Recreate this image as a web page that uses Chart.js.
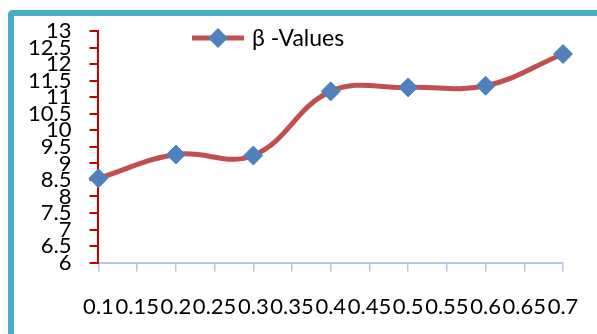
<!DOCTYPE html>
<html>
<head>
<meta charset="utf-8">
<script src="https://cdn.jsdelivr.net/npm/chart.js@4.4.0/dist/chart.umd.min.js"></script>
<style>
  html, body { margin: 0; padding: 0; background: #fff; }
  #wrap { position: relative; width: 597px; height: 334px; overflow: hidden; }
  #frame {
    position: absolute; left: 8px; top: 10px; width: 620px; height: 360px;
    border-left: 6px solid #4bacc6; border-top: 6px solid #4bacc6;
    border-top-left-radius: 5px;
  }
  canvas { position: absolute; left: 0; top: 0; }
</style>
</head>
<body>
<div id="wrap">
  <div id="frame"></div>
  <canvas id="betaChart" width="597" height="334"></canvas>
</div>
<script>
// x categories (every 0.05), measured values only at every 0.1
const xLabels = ['0.1', '0.15', '0.2', '0.25', '0.3', '0.35', '0.4', '0.45', '0.5', '0.55', '0.6', '0.65', '0.7'];
const betaValues = [8.55, null, 9.27, null, 9.24, null, 11.18, null, 11.30, null, 11.35, null, 12.31];
const yRange = [6, 13];
const yStep = 0.5;

const lineRed = '#c0504d';
const markerBlue = '#4f81bd';
const axisRed = '#cc0000';
const axisBlue = '#b4c8e6';
const fontFamily = 'Lato, "Noto Sans", sans-serif';
const tickFont = { family: fontFamily, size: 22 };

// legend sits inside the plot, like the spreadsheet original
const insideLegend = {
  id: 'insideLegend',
  afterDraw(chart) {
    const ctx = chart.ctx;
    const ds = chart.data.datasets[0];
    const y = 38;
    ctx.save();
    ctx.strokeStyle = lineRed;
    ctx.lineWidth = 5;
    ctx.beginPath();
    ctx.moveTo(192, y);
    ctx.lineTo(244, y);
    ctx.stroke();
    ctx.fillStyle = markerBlue;
    ctx.beginPath();
    ctx.moveTo(218 - 10, y);
    ctx.lineTo(218, y - 10);
    ctx.lineTo(218 + 10, y);
    ctx.lineTo(218, y + 10);
    ctx.closePath();
    ctx.fill();
    ctx.fillStyle = '#000';
    ctx.font = '23px ' + fontFamily;
    ctx.textBaseline = 'middle';
    ctx.fillText(ds.label, 252, y + 1);
    ctx.restore();
  }
};

new Chart(document.getElementById('betaChart').getContext('2d'), {
  type: 'line',
  data: {
    labels: xLabels,
    datasets: [{
      label: 'β -Values',
      data: betaValues,
      borderColor: lineRed,
      borderWidth: 5,
      tension: 0.4,
      spanGaps: true,
      pointStyle: 'rectRot',
      pointRadius: 9.5,
      pointBackgroundColor: markerBlue,
      pointBorderColor: markerBlue,
      pointBorderWidth: 1,
      clip: false
    }]
  },
  options: {
    responsive: false,
    animation: false,
    layout: { autoPadding: false, padding: { left: 10, right: 0, top: 17, bottom: 0 } },
    plugins: {
      legend: { display: false },
      tooltip: { enabled: false }
    },
    scales: {
      x: {
        offset: false,
        border: { color: axisBlue, width: 2 },
        grid: { drawOnChartArea: false, tickLength: 9, tickColor: axisBlue, lineWidth: 1.5 },
        ticks: {
          autoSkip: false, maxRotation: 0, minRotation: 0, padding: 22,
          color: '#000', font: tickFont
        },
        // tick padding is counted below the labels too; trim it and the right gutter
        afterFit(scale) {
          scale.height -= 8;
          scale.paddingRight = 34;
        }
      },
      y: {
        min: yRange[0],
        max: yRange[1],
        border: { color: axisRed, width: 2 },
        grid: { drawOnChartArea: false, tickLength: 9, tickColor: axisRed, lineWidth: 2 },
        ticks: {
          stepSize: yStep, autoSkip: false, padding: 18,
          color: '#000', font: tickFont,
          callback: v => String(v)
        }
      }
    }
  },
  plugins: [insideLegend]
});
</script>
</body>
</html>
